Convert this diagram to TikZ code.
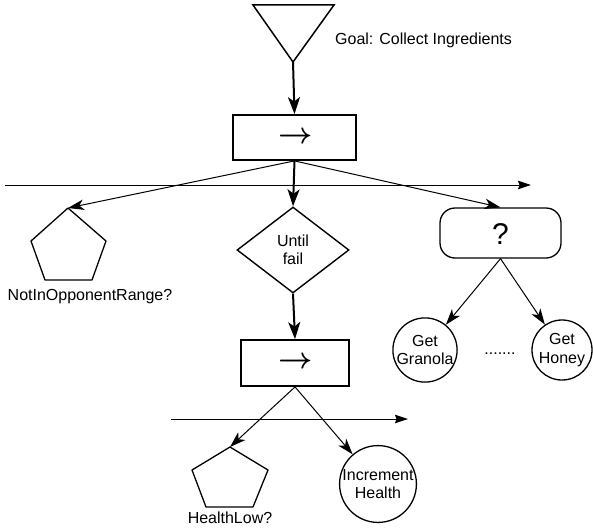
\documentclass[tikz,border=0pt]{standalone}
\usepackage{fontspec}
\setmainfont{Liberation Sans}
\usetikzlibrary{arrows.meta,shapes.geometric}

% sequence sign: a bold math arrow, enlarged
\newcommand{\seqarrow}{\scalebox{1.2}{\fontsize{24.88}{26}\selectfont\boldmath$\rightarrow$}}

\begin{document}
\begin{tikzpicture}[x=1pt,y=-1pt,
  every node/.style={font=\fontsize{16}{18.5}\selectfont, inner sep=0pt},
  seqbox/.style={draw, rectangle, line width=1.8pt},
  selbox/.style={draw, rectangle, rounded corners=15pt, line width=1.3pt,
    minimum width=121pt, minimum height=50pt},
  loopbox/.style={draw, diamond, line width=1.4pt, align=center,
    minimum width=112pt, minimum height=86pt},
  actnode/.style={draw, circle, line width=1.3pt, align=center},
  condshape/.style={line width=1.3pt, line join=round},
  heavy/.style={line width=2pt, -{Stealth[length=17pt,width=12pt,inset=4.5pt]}},
  light/.style={line width=1pt, -{Stealth[length=16pt,width=10.5pt,inset=4.5pt]}},
  axis/.style={line width=0.9pt, -{Stealth[length=13pt,width=8.5pt,inset=1.5pt]}}]

\useasboundingbox (0,0) rectangle (593,527);

% goal triangle
\coordinate (gl) at (253,5);
\coordinate (gr) at (334,5);
\coordinate (ga) at (293,62);
\draw[line width=1.5pt, line join=miter] (gl) -- (gr) -- (ga) -- cycle;
\node[anchor=west] (goal) at (335,40) {Goal: Collect Ingredients};

% top sequence
\node[seqbox, minimum width=123pt, minimum height=45pt] (seq1) at (294.5,137.5) {};
\node (s1) at (296,138) {\seqarrow};
\draw[heavy] (ga) -- (seq1.north);

% horizontal axis under the top sequence
\coordinate (ax1s) at (5,185);
\coordinate (ax1e) at (531,185);
\draw[axis] (ax1s) -- (ax1e);

% condition: not in opponent range
\coordinate (p1t) at (68,208);
\coordinate (p1r) at (106,241);
\coordinate (p1br) at (92,280);
\coordinate (p1bl) at (45,280);
\coordinate (p1l) at (31,241);
\draw[condshape] (p1t) -- (p1r) -- (p1br) -- (p1bl) -- (p1l) -- cycle;
\node (p1lab) at (90,297) {NotInOpponentRange?};

% until-fail decorator
\node[loopbox] (until) at (293,250) {Until\\fail};

% selector
\node[selbox] (sel) at (500.5,233) {};
\node[font=\fontsize{30}{32}\selectfont] (q) at (500.5,234) {?};

\draw[light] (seq1.south) -- (p1t);
\draw[heavy] (seq1.south) -- (until.north);
\draw[light] (seq1.south) -- (sel.north);

% selector children
\node[actnode, minimum size=62pt] (gran) at (425,350) {Get\\Granola};
\node[actnode, minimum size=60pt] (honey) at (562,350) {Get\\Honey};
\node (dots) at (500,354) {.......};
\draw[light] (sel.south) -- (gran);
\draw[light] (sel.south) -- (honey);

% inner sequence
\node[seqbox, minimum width=108pt, minimum height=46pt] (seq2) at (295,363) {};
\node (s2) at (296,363) {\seqarrow};
\draw[heavy] (until.south) -- (seq2.north);

% horizontal axis under the inner sequence
\coordinate (ax2s) at (171,419);
\coordinate (ax2e) at (408,419);
\draw[axis] (ax2s) -- (ax2e);

% condition: health low
\coordinate (p2t) at (230,447);
\coordinate (p2r) at (268,470);
\coordinate (p2br) at (253,507);
\coordinate (p2bl) at (206,507);
\coordinate (p2l) at (192,470);
\draw[condshape] (p2t) -- (p2r) -- (p2br) -- (p2bl) -- (p2l) -- cycle;
\node (p2lab) at (230,518) {HealthLow?};

% action: increment health
\node[actnode, minimum size=74pt] (incr) at (378,484) {Increment\\Health};

\draw[light] (seq2.south) -- (p2t);
\draw[light] (seq2.south) -- (incr);
\end{tikzpicture}
\end{document}
